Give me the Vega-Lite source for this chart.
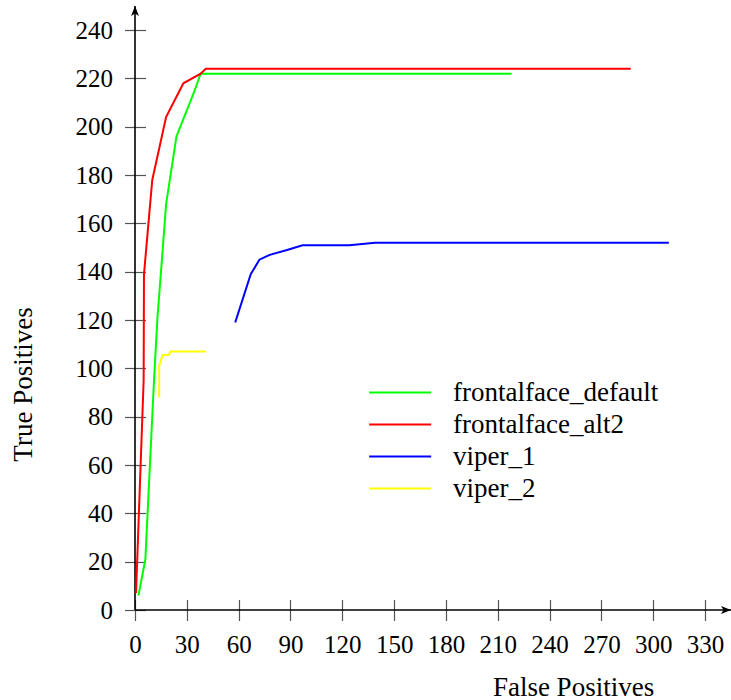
{
  "$schema": "https://vega.github.io/schema/vega-lite/v6.json",
  "width": 596,
  "height": 604,
  "autosize": {"type": "none"},
  "padding": {"left": 135, "top": 6, "right": 0, "bottom": 90},
  "background": "white",
  "config": {
    "view": {"stroke": null},
    "axis": {
      "grid": false, "domain": false, "offset": -10.5, "tickSize": 21,
      "tickColor": "#555", "tickWidth": 1.2,
      "labelFont": "Liberation Serif", "labelFontSize": 25, "labelColor": "black",
      "titleFont": "Liberation Serif", "titleFontSize": 27, "titleFontWeight": "normal", "titleColor": "black",
      "labelFlush": false, "labelOverlap": false
    },
    "axisX": {"labelPadding": 12, "labelAngle": 0, "titleX": 438, "titleY": 95.5, "titleBaseline": "alphabetic", "titleAlign": "center"},
    "axisY": {"labelPadding": 12, "titleX": -114, "titleY": 378, "titleBaseline": "alphabetic", "titleAlign": "center", "titleAngle": -90}
  },
  "layer": [
    {
      "data": {"values": [{}]},
      "mark": {"type": "rule", "color": "black", "strokeWidth": 1.6},
      "encoding": {"x": {"datum": 0, "type": "quantitative"}}
    },
    {
      "data": {"values": [{}]},
      "mark": {"type": "rule", "color": "black", "strokeWidth": 1.6},
      "encoding": {"y": {"datum": 0, "type": "quantitative"}}
    },
    {
      "data": {"values": [
        {"series": "frontalface_default", "fp": 2, "tp": 6, "ord": 1},
        {"series": "frontalface_default", "fp": 6, "tp": 21, "ord": 2},
        {"series": "frontalface_default", "fp": 11, "tp": 95, "ord": 3},
        {"series": "frontalface_default", "fp": 13, "tp": 121, "ord": 4},
        {"series": "frontalface_default", "fp": 16, "tp": 149, "ord": 5},
        {"series": "frontalface_default", "fp": 18, "tp": 168, "ord": 6},
        {"series": "frontalface_default", "fp": 24, "tp": 196, "ord": 7},
        {"series": "frontalface_default", "fp": 34, "tp": 214, "ord": 8},
        {"series": "frontalface_default", "fp": 38, "tp": 222, "ord": 9},
        {"series": "frontalface_default", "fp": 218, "tp": 222, "ord": 10},
        {"series": "frontalface_alt2", "fp": 0.6, "tp": 7, "ord": 1},
        {"series": "frontalface_alt2", "fp": 5, "tp": 95, "ord": 2},
        {"series": "frontalface_alt2", "fp": 5.2, "tp": 139, "ord": 3},
        {"series": "frontalface_alt2", "fp": 10, "tp": 178, "ord": 4},
        {"series": "frontalface_alt2", "fp": 18, "tp": 204, "ord": 5},
        {"series": "frontalface_alt2", "fp": 28, "tp": 218, "ord": 6},
        {"series": "frontalface_alt2", "fp": 38, "tp": 222, "ord": 7},
        {"series": "frontalface_alt2", "fp": 41, "tp": 224, "ord": 8},
        {"series": "frontalface_alt2", "fp": 287, "tp": 224, "ord": 9},
        {"series": "viper_1", "fp": 58, "tp": 119, "ord": 1},
        {"series": "viper_1", "fp": 67, "tp": 139, "ord": 2},
        {"series": "viper_1", "fp": 72, "tp": 145, "ord": 3},
        {"series": "viper_1", "fp": 78, "tp": 147, "ord": 4},
        {"series": "viper_1", "fp": 88, "tp": 149, "ord": 5},
        {"series": "viper_1", "fp": 97, "tp": 151, "ord": 6},
        {"series": "viper_1", "fp": 124, "tp": 151, "ord": 7},
        {"series": "viper_1", "fp": 139, "tp": 152, "ord": 8},
        {"series": "viper_1", "fp": 309, "tp": 152, "ord": 9},
        {"series": "viper_2", "fp": 14, "tp": 88, "ord": 1},
        {"series": "viper_2", "fp": 14, "tp": 101, "ord": 2},
        {"series": "viper_2", "fp": 16, "tp": 105.5, "ord": 3},
        {"series": "viper_2", "fp": 19.5, "tp": 105.5, "ord": 4},
        {"series": "viper_2", "fp": 20.5, "tp": 107, "ord": 5},
        {"series": "viper_2", "fp": 41, "tp": 107, "ord": 6}
      ]},
      "mark": {"type": "line", "strokeWidth": 2},
      "encoding": {
        "x": {"field": "fp", "type": "quantitative", "scale": {"domain": [0, 345], "nice": false},
              "axis": {"values": [0, 30, 60, 90, 120, 150, 180, 210, 240, 270, 300, 330]}, "title": "False Positives"},
        "y": {"field": "tp", "type": "quantitative", "scale": {"domain": [0, 250], "nice": false},
              "axis": {"values": [0, 20, 40, 60, 80, 100, 120, 140, 160, 180, 200, 220, 240]}, "title": "True Positives"},
        "color": {"field": "series", "type": "nominal",
                  "scale": {"domain": ["frontalface_default", "frontalface_alt2", "viper_1", "viper_2"],
                            "range": ["#00ff00", "#ff0000", "#0000ff", "#ffff00"]},
                  "legend": {"orient": "none", "legendX": 231, "legendY": 373, "title": null,
                             "symbolType": "M-1,0H5", "symbolSize": 427, "symbolStrokeWidth": 2,
                             "labelFont": "Liberation Serif", "labelFontSize": 27, "labelColor": "black",
                             "labelOffset": 60, "labelLimit": 500, "rowPadding": 4, "padding": 0}},
        "order": {"field": "ord", "type": "quantitative"}
      }
    },
    {
      "data": {"values": [{}]},
      "mark": {"type": "point", "shape": "M0,0L-2,-0.8L-1.5,0L-2,0.8Z", "filled": true, "color": "black", "size": 100, "opacity": 1},
      "encoding": {"x": {"datum": 345, "type": "quantitative"}, "y": {"datum": 0, "type": "quantitative"}}
    },
    {
      "data": {"values": [{}]},
      "mark": {"type": "point", "shape": "M0,0L-0.8,2L0,1.5L0.8,2Z", "filled": true, "color": "black", "size": 100, "opacity": 1},
      "encoding": {"x": {"datum": 0, "type": "quantitative"}, "y": {"datum": 250, "type": "quantitative"}}
    }
  ]
}
